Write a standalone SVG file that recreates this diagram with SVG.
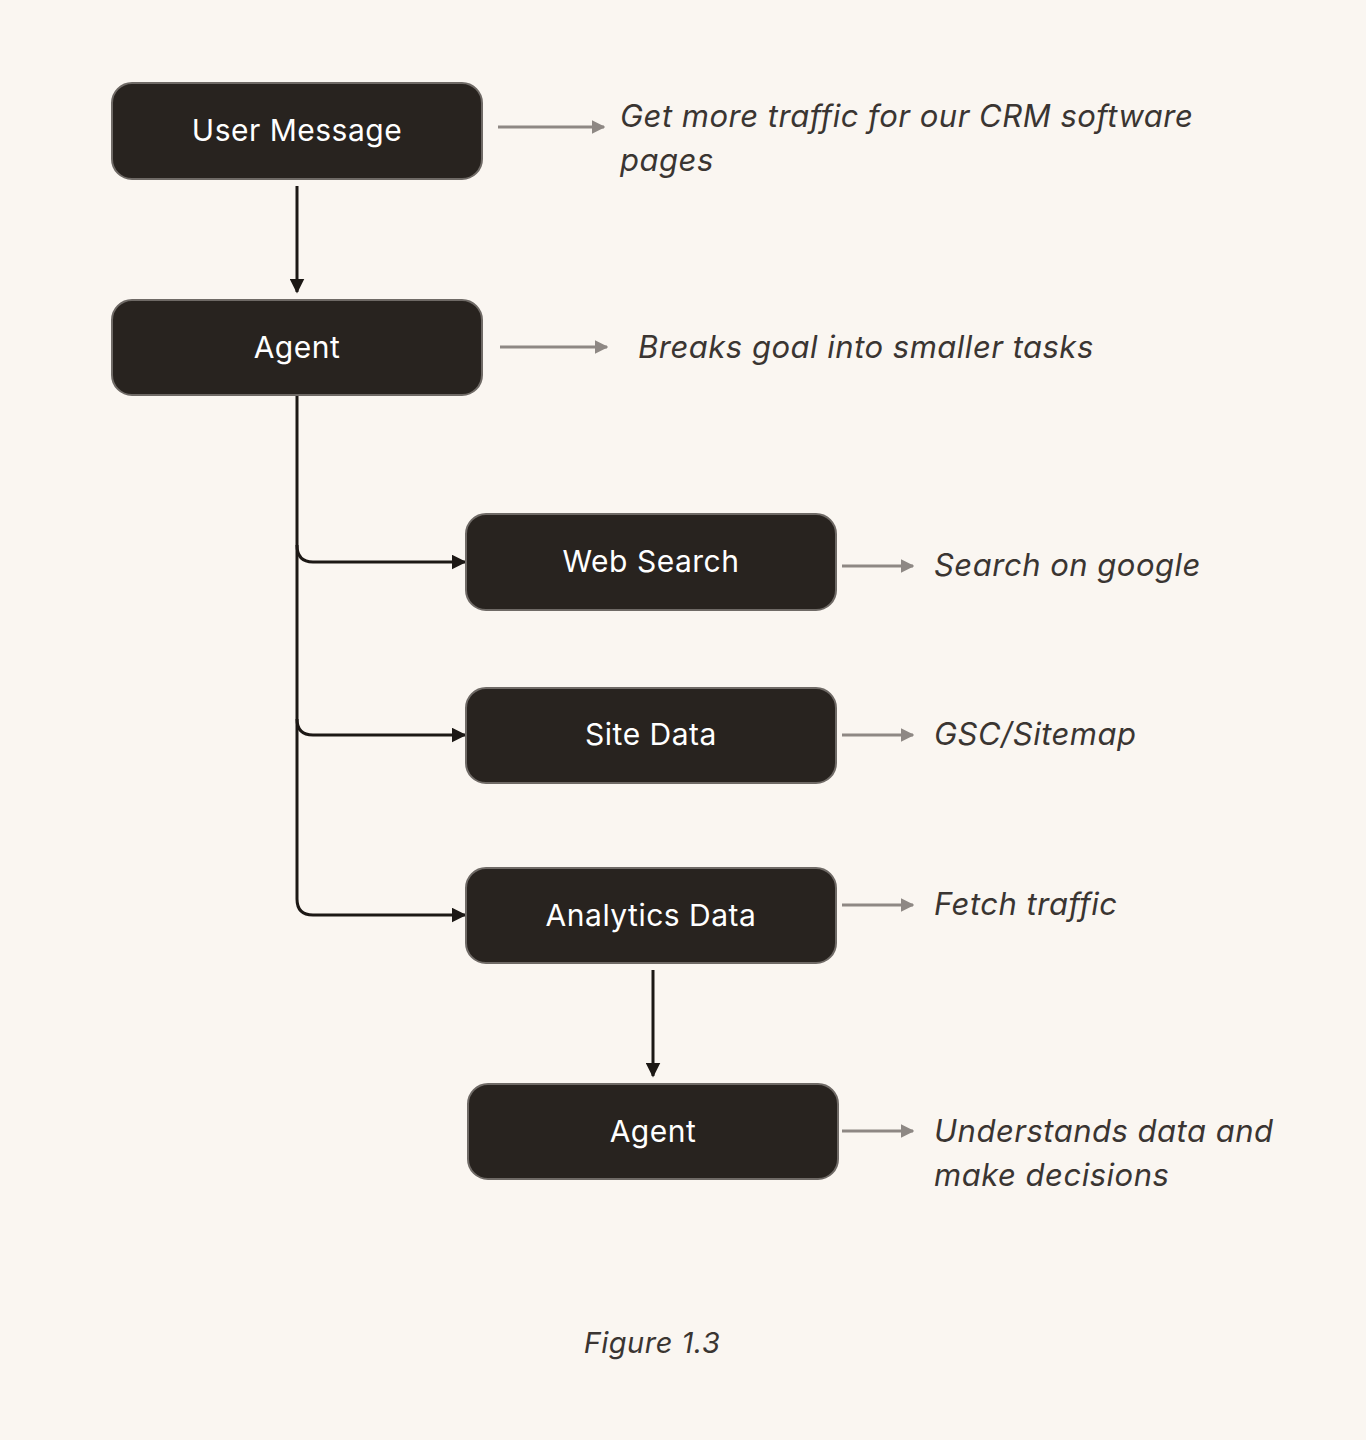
<svg xmlns="http://www.w3.org/2000/svg" width="1366" height="1440" viewBox="0 0 1366 1440">
<defs>
<style>
.box{fill:#28231F;stroke:#6f6a66;stroke-width:2}
.lbl{font-family:Inter,"Noto Sans",sans-serif;font-size:30px;fill:#ffffff;text-anchor:middle;letter-spacing:0.5px}
.note{font-family:Inter,"Noto Sans",sans-serif;font-size:31px;font-style:italic;fill:#3a3532;letter-spacing:0.5px}
.c{fill:none;stroke:#1c1815;stroke-width:3}
.g{fill:none;stroke:#8e8884;stroke-width:3}
</style>
<marker id="ab" viewBox="0 0 10 10" refX="9" refY="5" markerWidth="5" markerHeight="5" orient="auto" markerUnits="strokeWidth"><path d="M0,0 L10,5 L0,10 z" fill="#1c1815"/></marker>
<marker id="ag" viewBox="0 0 10 10" refX="9" refY="5" markerWidth="4.5" markerHeight="4.5" orient="auto" markerUnits="strokeWidth"><path d="M0,0 L10,5 L0,10 z" fill="#8e8884"/></marker>
</defs>
<rect width="1366" height="1440" fill="#FAF6F1"/>
<g id="connectors">
<path class="c" d="M297,186 V292" marker-end="url(#ab)"/>
<path class="c" d="M297,395 V899 Q297,915 313,915 H465" marker-end="url(#ab)"/>
<path class="c" d="M297,545 Q297,562 313,562 H465" marker-end="url(#ab)"/>
<path class="c" d="M297,719 Q297,735 313,735 H465" marker-end="url(#ab)"/>
<path class="c" d="M653,970 V1076" marker-end="url(#ab)"/>
<path class="g" d="M498,127 H604" marker-end="url(#ag)"/>
<path class="g" d="M500,347 H607" marker-end="url(#ag)"/>
<path class="g" d="M842,566 H913" marker-end="url(#ag)"/>
<path class="g" d="M842,735 H913" marker-end="url(#ag)"/>
<path class="g" d="M842,905 H913" marker-end="url(#ag)"/>
<path class="g" d="M842,1131 H913" marker-end="url(#ag)"/>
</g>
<g id="user-message"><rect class="box" x="112" y="83" width="370" height="96" rx="20"/><text class="lbl" x="297" y="141">User Message</text></g>
<g id="agent-1"><rect class="box" x="112" y="300" width="370" height="95" rx="20" stroke="#28231F"/><text class="lbl" x="297" y="358">Agent</text></g>
<g id="web-search"><rect class="box" x="466" y="514" width="370" height="96" rx="20"/><text class="lbl" x="651" y="572">Web Search</text></g>
<g id="site-data"><rect class="box" x="466" y="688" width="370" height="95" rx="20"/><text class="lbl" x="651" y="745">Site Data</text></g>
<g id="analytics-data"><rect class="box" x="466" y="868" width="370" height="95" rx="20"/><text class="lbl" x="651" y="926">Analytics Data</text></g>
<g id="agent-2"><rect class="box" x="468" y="1084" width="370" height="95" rx="20"/><text class="lbl" x="653" y="1142">Agent</text></g>
<g id="notes">
<text class="note" x="620" y="127">Get more traffic for our CRM software</text>
<text class="note" x="620" y="171">pages</text>
<text class="note" x="638" y="358">Breaks goal into smaller tasks</text>
<text class="note" x="934" y="576">Search on google</text>
<text class="note" x="934" y="745">GSC/Sitemap</text>
<text class="note" x="934" y="915">Fetch traffic</text>
<text class="note" x="934" y="1142">Understands data and</text>
<text class="note" x="934" y="1186">make decisions</text>
<text class="note" x="652" y="1353" text-anchor="middle" style="font-size:29px">Figure 1.3</text>
</g>
</svg>
